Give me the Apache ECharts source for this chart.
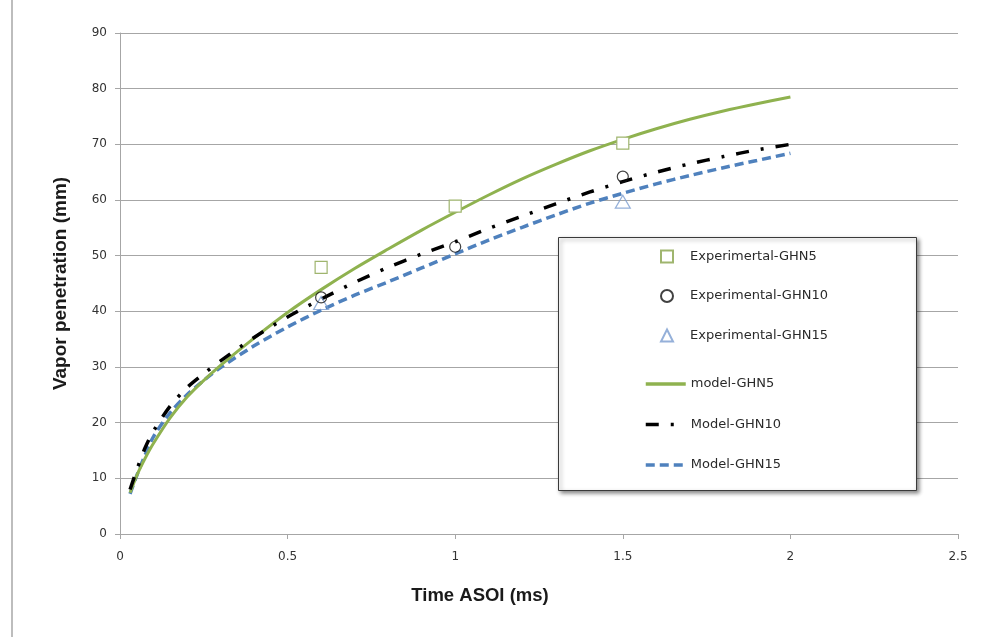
<!DOCTYPE html>
<html>
<head>
<meta charset="utf-8">
<script src="https://cdn.jsdelivr.net/npm/echarts@6/dist/echarts.min.js"></script>
<style>
  html, body { margin: 0; padding: 0; background: #ffffff; }
  #chart { width: 998px; height: 637px; }
</style>
</head>
<body>
<div id="chart"></div>
<script>
// Time after start of injection (ms) for the model curves
const modelTime = [0.03, 0.05, 0.075, 0.1, 0.15, 0.2, 0.25, 0.3, 0.4, 0.5, 0.6, 0.7, 0.8, 0.9, 1.0,
                   1.1, 1.2, 1.3, 1.4, 1.5, 1.6, 1.7, 1.8, 1.9, 2.0];
// Vapor penetration (mm) predicted by each model
const modelGHN5  = [7.4, 10.5, 13.6, 16.3, 20.9, 24.6, 27.6, 30.3, 35.2, 39.8, 43.9, 47.7, 51.2, 54.6, 57.8,
                    60.9, 63.8, 66.4, 68.8, 70.9, 72.8, 74.5, 76.0, 77.3, 78.5];
const modelGHN10 = [8.0, 11.5, 15.5, 18.5, 23.0, 26.3, 28.8, 31.1, 35.3, 39.0, 42.2, 45.2, 47.9, 50.3, 52.5,
                    54.9, 57.1, 59.3, 61.4, 63.3, 65.0, 66.5, 67.8, 69.0, 70.0];
const modelGHN15 = [7.2, 10.5, 14.2, 17.5, 21.8, 25.0, 27.6, 29.9, 33.8, 37.2, 40.2, 42.9, 45.3, 47.8, 50.3,
                    52.8, 55.1, 57.3, 59.4, 61.2, 62.9, 64.4, 65.8, 67.1, 68.4];
// Measured penetration
const expTime5  = [0.6, 1.0, 1.5];
const expGHN5   = [47.9, 58.9, 70.2];
const expTime10 = [0.6, 1.0, 1.5];
const expGHN10  = [42.5, 51.6, 64.2];
const expTime15 = [0.6, 1.5];
const expGHN15  = [41.5, 59.7];
// Axis ticks
const xTicks = [0, 0.5, 1, 1.5, 2, 2.5];
const yTicks = [0, 10, 20, 30, 40, 50, 60, 70, 80, 90];

const pairs = (xs, ys) => xs.map((x, i) => [x, ys[i]]);

const GREEN = '#8fb24f';
const BLUE = '#4f81bd';
const AXIS_GRAY = '#a6a6a6';
const legendFont = { fontFamily: 'DejaVu Sans', fontSize: 13, color: '#2a2a2a' };

const chart = echarts.init(document.getElementById('chart'), null, { renderer: 'canvas' });

chart.setOption({
  animation: false,
  backgroundColor: '#ffffff',
  grid: { left: 120, right: 40, top: 33, bottom: 103, containLabel: false },
  xAxis: {
    type: 'value',
    min: xTicks[0], max: xTicks[xTicks.length - 1], interval: 0.5,
    name: 'Time ASOI (ms)',
    nameLocation: 'middle',
    nameGap: 52,
    nameTextStyle: {
      fontFamily: 'Liberation Sans Narrow, Liberation Sans', fontWeight: 'bold',
      fontSize: 18.5, color: '#1a1a1a', padding: [0, 118, 0, 0]
    },
    axisLine: { show: true, onZero: false, lineStyle: { color: AXIS_GRAY, width: 1 } },
    axisTick: { show: true, length: 5, lineStyle: { color: AXIS_GRAY } },
    axisLabel: { fontFamily: 'DejaVu Sans', fontSize: 12, color: '#333', margin: 17 },
    splitLine: { show: false }
  },
  yAxis: {
    type: 'value',
    min: yTicks[0], max: yTicks[yTicks.length - 1], interval: 10,
    name: 'Vapor penetration (mm)',
    nameLocation: 'middle',
    nameGap: 50,
    nameRotate: 90,
    nameTextStyle: {
      fontFamily: 'Liberation Sans Narrow, Liberation Sans', fontWeight: 'bold',
      fontSize: 19, color: '#1a1a1a'
    },
    axisLine: { show: true, lineStyle: { color: AXIS_GRAY, width: 1 } },
    axisTick: { show: true, length: 5, lineStyle: { color: AXIS_GRAY } },
    axisLabel: { fontFamily: 'DejaVu Sans', fontSize: 12, color: '#333', margin: 13 },
    splitLine: { show: true, lineStyle: { color: AXIS_GRAY, width: 1 } }
  },
  legend: [
    {
      data: [
        { name: 'Experimertal-GHN5', icon: 'rect' },
        { name: 'Experimental-GHN10', icon: 'circle' },
        { name: 'Experimental-GHN15', icon: 'triangle' }
      ],
      orient: 'vertical',
      left: 660, top: 249.5, padding: 0,
      itemWidth: 12, itemHeight: 12, itemGap: 25.5,
      textStyle: Object.assign({}, legendFont, { padding: [0, 0, 0, 12] }),
      selectedMode: false,
      z: 20
    },
    {
      data: ['model-GHN5', 'Model-GHN10', 'Model-GHN15'].map(n => ({
        name: n, itemStyle: { opacity: 0 }, lineStyle: { width: 3.5 }
      })),
      orient: 'vertical',
      left: 644, top: 377.5, padding: 0,
      itemWidth: 40, itemHeight: 14, itemGap: 27.5,
      textStyle: legendFont,
      selectedMode: false,
      z: 20
    }
  ],
  graphic: [
    // outer chart-area border on the left edge
    { type: 'line', shape: { x1: 12, y1: 0, x2: 12, y2: 637 },
      style: { stroke: '#bdbdbd', lineWidth: 2 }, silent: true },
    // legend frame with drop shadow
    { type: 'rect', left: 558, top: 237, shape: { width: 358, height: 253 },
      style: { fill: '#ffffff', stroke: '#3a3a3a', lineWidth: 1,
               shadowBlur: 4, shadowOffsetX: 2, shadowOffsetY: 2, shadowColor: 'rgba(0,0,0,0.45)' },
      z: 10, silent: true }
  ],
  series: [
    {
      name: 'model-GHN5', type: 'line', data: pairs(modelTime, modelGHN5),
      smooth: 0.3, symbol: 'none', showSymbol: false,
      lineStyle: { color: GREEN, width: 3 }, itemStyle: { color: GREEN }, z: 3
    },
    {
      name: 'Model-GHN10', type: 'line', data: pairs(modelTime, modelGHN10),
      smooth: 0.3, symbol: 'none', showSymbol: false,
      lineStyle: { color: '#000000', width: 3.5, type: [13, 12, 3, 12] }, itemStyle: { color: '#000000' }, z: 4
    },
    {
      name: 'Model-GHN15', type: 'line', data: pairs(modelTime, modelGHN15),
      smooth: 0.3, symbol: 'none', showSymbol: false,
      lineStyle: { color: BLUE, width: 3.5, type: [9, 5] }, itemStyle: { color: BLUE }, z: 2
    },
    {
      name: 'Experimertal-GHN5', type: 'scatter', data: pairs(expTime5, expGHN5),
      symbol: 'rect', symbolSize: 12,
      itemStyle: { color: '#ffffff', opacity: 1, borderColor: '#9fb56e', borderWidth: 1.2 }, z: 5
    },
    {
      name: 'Experimental-GHN10', type: 'scatter', data: pairs(expTime10, expGHN10),
      symbol: 'circle', symbolSize: 11,
      itemStyle: { color: 'rgba(255,255,255,0)', borderColor: '#111111', borderWidth: 1.2 }, z: 6
    },
    {
      name: 'Experimental-GHN15', type: 'scatter', data: pairs(expTime15, expGHN15),
      symbol: 'triangle', symbolSize: [15, 13],
      itemStyle: { color: 'rgba(255,255,255,0)', borderColor: '#7b9cd0', borderWidth: 1.2 }, z: 5
    }
  ]
});
</script>
</body>
</html>
